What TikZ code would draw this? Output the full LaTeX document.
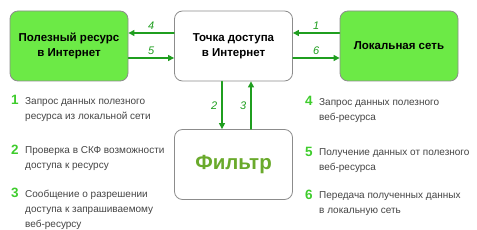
\documentclass[tikz,border=0pt]{standalone}
\usepackage{fontspec}
\setmainfont{Liberation Sans}
\usepackage{xcolor}
\usetikzlibrary{arrows.meta,positioning,calc}
\definecolor{boxgreen}{HTML}{6CEA46}
\definecolor{edgegray}{HTML}{8C8C8C}
\definecolor{flowgreen}{HTML}{1F9E1F}
\definecolor{numgreen}{HTML}{3ECC2C}
\definecolor{filtergreen}{HTML}{6AAA2C}
\definecolor{ink}{HTML}{444444}
\tikzset{
    every picture/.style={line cap=round,line join=round},
    netbox/.style={draw=edgegray,line width=0.8pt,rounded corners=8pt,
      minimum width=118pt,minimum height=70pt,inner sep=2pt,
      font=\fontsize{11.5}{15}\selectfont\bfseries,align=center},
    greenbox/.style={netbox,fill=boxgreen},
    whitebox/.style={netbox,fill=white},
    flowarrow/.style={-{Triangle[length=6pt,width=6pt]},draw=flowgreen,
      line width=1.1pt},
    flowlabel/.style={text=flowgreen,font=\fontsize{11}{11}\selectfont\itshape},
    stepnum/.style={text=numgreen,font=\fontsize{13.5}{13.5}\selectfont\bfseries,
      anchor=base west,inner sep=0pt},
    steptext/.style={text=ink,font=\fontsize{10}{15}\selectfont,align=left,
      anchor=north west,inner sep=0pt}
}
\begin{document}
\begin{tikzpicture}[x=1pt,y=-1pt]
  \useasboundingbox (0,0) rectangle (477,230);
  % boxes
  \node[greenbox] (res) at (69,46) {Полезный ресурс\\в Интернет};
  \node[whitebox] (ap) at (233.5,46) {Точка доступа\\в Интернет};
  \node[greenbox] (lan) at (399,46) {Локальная сеть};
  \node[whitebox,font=\fontsize{20.5}{20.5}\selectfont\bfseries,text=filtergreen] (flt) at (233.5,164.5) {Фильтр};
  % horizontal flows
  \draw[flowarrow] ([yshift=13pt]lan.west) -- node[flowlabel,above=0pt] (l1) {1} ([yshift=13pt]ap.east);
  \draw[flowarrow] ([yshift=-12pt]ap.east) -- node[flowlabel,above=0pt] (l6) {6} ([yshift=-12pt]lan.west);
  \draw[flowarrow] ([yshift=13pt]ap.west) -- node[flowlabel,above=0pt] (l4) {4} ([yshift=13pt]res.east);
  \draw[flowarrow] ([yshift=-12pt]res.east) -- node[flowlabel,above=0pt] (l5) {5} ([yshift=-12pt]ap.west);
  % vertical flows
  \draw[flowarrow] ([xshift=-11.5pt]ap.south) -- node[flowlabel,left=1pt] (l2) {2} ([xshift=-11.5pt]flt.north);
  \draw[flowarrow] ([xshift=17.5pt]flt.north) -- node[flowlabel,left=1pt] (l3) {3} ([xshift=17.5pt]ap.south);
  % legend
  \foreach \n/\x/\y/\t in {1/11/105/{Запрос данных полезного\\ресурса из локальной сети},
      2/11/154/{Проверка в СКФ возможности\\доступа к ресурсу},
      3/11/197/{Сообщение о разрешении\\доступа к запрашиваемому\\веб-ресурсу},
      4/305/106/{Запрос данных полезного\\веб-ресурса},
      5/305/156/{Получение данных от полезного\\веб-ресурса},
      6/305/199/{Передача полученных данных\\в локальную сеть}} {
    \node[stepnum] (n\n) at (\x,\y) {\n};
    \node[steptext] (t\n) at (\x+14,\y-7.5) {\t};
  }
\end{tikzpicture}
\end{document}
